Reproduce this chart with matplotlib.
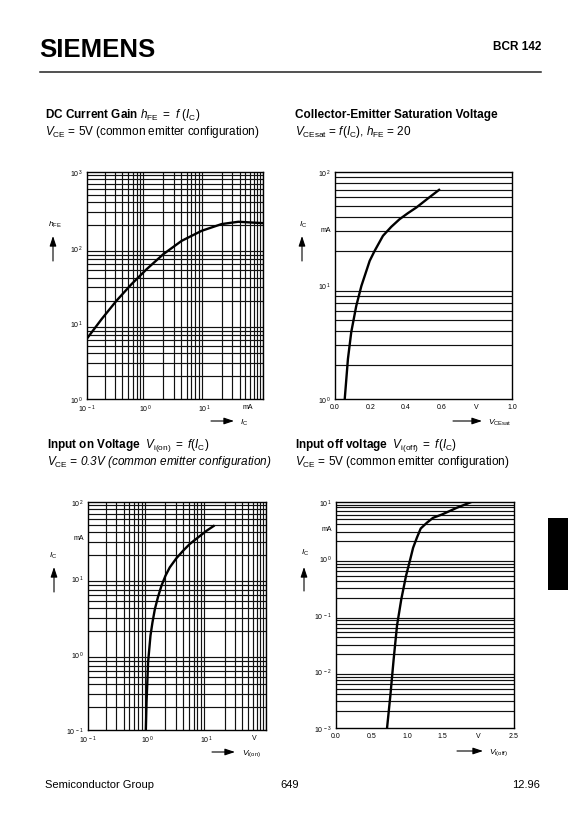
import numpy as np
import matplotlib
matplotlib.use('Agg')
import matplotlib.pyplot as plt
from matplotlib.ticker import LogLocator, FixedLocator, MultipleLocator, FixedFormatter, NullFormatter
from matplotlib.patches import FancyArrowPatch, Rectangle
from matplotlib.lines import Line2D

plt.rcParams['font.family'] = ['Liberation Sans', 'DejaVu Sans']
plt.rcParams['mathtext.fontset'] = 'custom'
plt.rcParams['mathtext.rm'] = 'Liberation Sans'
plt.rcParams['mathtext.it'] = 'Liberation Sans:italic'
plt.rcParams['mathtext.bf'] = 'Liberation Sans:bold'

# ---------------- data ----------------
# DC current gain hFE = f(IC)
gain_ic = [0.1, 0.178, 0.32, 0.575, 1.04, 2.0, 4.1, 9.0, 19.7, 38, 64, 100]
gain_hfe = [6.3, 11.4, 20, 33, 52, 82, 123, 167, 205, 220, 215, 211]
# Collector-emitter saturation voltage
sat_v = [0.055, 0.073, 0.092, 0.12, 0.149, 0.196, 0.224, 0.271, 0.318, 0.365, 0.412, 0.46, 0.525, 0.588]
sat_ic = [1.0, 2.25, 3.9, 6.6, 9.9, 16.5, 20.2, 27.4, 32.9, 38.4, 43.4, 48.7, 58.5, 69.6]
# Input on voltage
on_v = [0.944, 0.97, 1.03, 1.13, 1.22, 1.34, 1.51, 1.73, 2.02, 2.39, 3.09, 4.0, 5.18, 7.1, 9.9, 13.1]
on_ic = [0.1, 0.234, 0.78, 1.75, 2.6, 3.9, 5.6, 7.9, 10.7, 13.8, 18.2, 22.8, 28, 34, 41.7, 48.3]
# Input off voltage
off_v = [0.717, 0.763, 0.81, 0.857, 0.917, 0.983, 1.043, 1.083, 1.137, 1.19, 1.277, 1.363, 1.487, 1.697, 1.884]
off_ic = [0.001, 0.0037, 0.0166, 0.065, 0.19, 0.49, 0.97, 1.55, 2.35, 3.4, 4.3, 5.25, 6.0, 7.9, 9.8]

# tick labels
tl_xticks = [0.1, 1, 10, 55]
tl_xlabels = [r'$\mathregular{10^{\,-1}}$', r'$\mathregular{10^{\,0}}$', r'$\mathregular{10^{\,1}}$', 'mA']
tl_yticks = [1, 10, 100, 1000]
tl_ylabels = [r'$\mathregular{10^{\,0}}$', r'$\mathregular{10^{\,1}}$', r'$\mathregular{10^{\,2}}$', r'$\mathregular{10^{\,3}}$']

tr_xticks = [0.0, 0.2, 0.4, 0.6, 0.8, 1.0]
tr_xlabels = ['0.0', '0.2', '0.4', '0.6', 'V', '1.0']
tr_yticks = [1, 10, 31.6, 100]
tr_ylabels = [r'$\mathregular{10^{\,0}}$', r'$\mathregular{10^{\,1}}$', 'mA', r'$\mathregular{10^{\,2}}$']

bl_xticks = [0.1, 1, 10, 64]
bl_xlabels = [r'$\mathregular{10^{\,-1}}$', r'$\mathregular{10^{\,0}}$', r'$\mathregular{10^{\,1}}$', 'V']
bl_yticks = [0.1, 1, 10, 35, 100]
bl_ylabels = [r'$\mathregular{10^{\,-1}}$', r'$\mathregular{10^{\,0}}$', r'$\mathregular{10^{\,1}}$', 'mA', r'$\mathregular{10^{\,2}}$']

br_xticks = [0.0, 0.5, 1.0, 1.5, 2.0, 2.5]
br_xlabels = ['0.0', '0.5', '1.0', '1.5', 'V', '2.5']
br_yticks = [1e-3, 1e-2, 1e-1, 1, 3.5, 10]
br_ylabels = [r'$\mathregular{10^{\,-3}}$', r'$\mathregular{10^{\,-2}}$', r'$\mathregular{10^{\,-1}}$',
              r'$\mathregular{10^{\,0}}$', 'mA', r'$\mathregular{10^{\,1}}$']

# ---------------- figure ----------------
W, H = 575, 828
fig = plt.figure(figsize=(W / 100, H / 100), dpi=100)
fig.patch.set_facecolor('white')


def fx(x):
    return x / W


def fy(y):
    return 1 - y / H


def make_axes(l, t, r, b):
    return fig.add_axes([l / W, 1 - b / H, (r - l) / W, (b - t) / H])


def style(ax, xlog, ylog, xlim, ylim, xt, xl, yt, yl, xminor=None, yminor=None):
    if xlog:
        ax.set_xscale('log')
    if ylog:
        ax.set_yscale('log')
    ax.set_xlim(*xlim)
    ax.set_ylim(*ylim)
    ax.xaxis.set_major_locator(FixedLocator(xt))
    ax.xaxis.set_major_formatter(FixedFormatter(xl))
    ax.yaxis.set_major_locator(FixedLocator(yt))
    ax.yaxis.set_major_formatter(FixedFormatter(yl))
    if xlog:
        ax.xaxis.set_minor_locator(LogLocator(base=10, subs=np.arange(1, 10), numticks=100))
    else:
        ax.xaxis.set_minor_locator(MultipleLocator(xminor))
    if ylog:
        ax.yaxis.set_minor_locator(LogLocator(base=10, subs=np.arange(1, 10), numticks=100))
    else:
        ax.yaxis.set_minor_locator(MultipleLocator(yminor))
    ax.xaxis.set_minor_formatter(NullFormatter())
    ax.yaxis.set_minor_formatter(NullFormatter())
    ax.grid(False, which='major')
    ax.grid(True, which='minor', color='#111111', lw=0.85)
    ax.tick_params(which='both', length=0, labelsize=5, pad=3)
    for s in ax.spines.values():
        s.set_linewidth(1.0)
        s.set_color('black')
    ax.set_axisbelow(True)


# Top-left: DC current gain
ax1 = make_axes(87, 173, 263, 400)
ax1.plot(gain_ic, gain_hfe, color='black', lw=1.7)
style(ax1, True, True, (0.1, 100), (1, 1000), tl_xticks, tl_xlabels, tl_yticks, tl_ylabels)

# Top-right: saturation voltage
ax2 = make_axes(335, 173, 512, 400)
ax2.plot(sat_v, sat_ic, color='black', lw=1.7)
style(ax2, False, True, (0, 1.0), (1, 100), tr_xticks, tr_xlabels, tr_yticks, tr_ylabels, xminor=0.2)

# Bottom-left: input on voltage
ax3 = make_axes(88, 503, 266, 731)
ax3.plot(on_v, on_ic, color='black', lw=1.7)
style(ax3, True, True, (0.1, 100), (0.1, 100), bl_xticks, bl_xlabels, bl_yticks, bl_ylabels)

# Bottom-right: input off voltage
ax4 = make_axes(336, 503, 514, 729)
ax4.plot(off_v, off_ic, color='black', lw=1.7)
style(ax4, False, True, (0, 2.5), (1e-3, 10), br_xticks, br_xlabels, br_yticks, br_ylabels, xminor=0.5)

# ---------------- titles ----------------
TS = 8.5
fig.text(fx(45), fy(115), r'DC Current Gain $h_{\rm FE}\ =\ f\ (I_{\rm C})$', fontsize=TS,
         fontweight='bold', ha='left', va='center')
fig.text(fx(45), fy(131.5), r'$V_{\rm CE}$ = 5V (common emitter configuration)', fontsize=TS,
         ha='left', va='center')
fig.text(fx(295), fy(115), 'Collector-Emitter Saturation Voltage', fontsize=TS,
         fontweight='bold', ha='left', va='center')
fig.text(fx(295), fy(131.5), r'$V_{\rm CEsat}$ = $f$($I_{\rm C}$), $h_{\rm FE}$ = 20', fontsize=TS,
         ha='left', va='center')
fig.text(fx(47), fy(446), r'Input on Voltage  $V_{\rm i(on)}\ =\ f(I_{\rm C})$', fontsize=TS,
         fontweight='bold', ha='left', va='center')
fig.text(fx(47), fy(462), r'$V_{\rm CE}$ = 0.3V (common emitter configuration)', fontsize=TS,
         fontstyle='italic', ha='left', va='center')
fig.text(fx(295), fy(446), r'Input off voltage  $V_{\rm i(off)}\ =\ f(I_{\rm C})$', fontsize=TS,
         fontweight='bold', ha='left', va='center')
fig.text(fx(295), fy(462), r'$V_{\rm CE}$ = 5V (common emitter configuration)', fontsize=TS,
         ha='left', va='center')

# ---------------- axis labels with arrows ----------------


def arrow(x0, y0, x1, y1):
    fig.add_artist(FancyArrowPatch((fx(x0), fy(y0)), (fx(x1), fy(y1)), transform=fig.transFigure,
                                   arrowstyle='-|>,head_length=0.6,head_width=0.2', mutation_scale=10,
                                   lw=0.8, color='black', shrinkA=0, shrinkB=0))


LS = 6
arrow(53, 262, 53, 237)
fig.text(fx(48), fy(225), r'$h_{\rm FE}$', fontsize=LS, ha='left', va='center')
arrow(302, 262, 302, 237)
fig.text(fx(299), fy(225), r'$I_{\rm C}$', fontsize=LS, ha='left', va='center')
arrow(54, 593, 54, 568)
fig.text(fx(49), fy(556), r'$I_{\rm C}$', fontsize=LS, ha='left', va='center')
arrow(304, 592, 304, 568)
fig.text(fx(301), fy(553), r'$I_{\rm C}$', fontsize=LS, ha='left', va='center')

arrow(211, 422, 234, 422)
fig.text(fx(240), fy(423), r'$I_{\rm C}$', fontsize=LS, ha='left', va='center')
arrow(453, 422, 482, 422)
fig.text(fx(488), fy(423), r'$V_{\rm CEsat}$', fontsize=LS, ha='left', va='center')
arrow(212, 753, 235, 753)
fig.text(fx(242), fy(754), r'$V_{\rm i(on)}$', fontsize=LS, ha='left', va='center')
arrow(457, 752, 483, 752)
fig.text(fx(489), fy(753), r'$V_{\rm i(off)}$', fontsize=LS, ha='left', va='center')

# ---------------- header / footer ----------------
fig.text(fx(39), fy(50), 'SIEMENS', fontsize=18.5, fontweight='bold', ha='left', va='center')
fig.text(fx(541), fy(47), 'BCR 142', fontsize=8.5, fontweight='bold', ha='right', va='center')
fig.add_artist(Line2D([fx(40), fx(541)], [fy(73), fy(73)], transform=fig.transFigure,
                      color='#222222', lw=1.1))
fig.text(fx(45), fy(785), 'Semiconductor Group', fontsize=8, ha='left', va='center')
fig.text(fx(290), fy(785), '649', fontsize=8, ha='center', va='center')
fig.text(fx(540), fy(785), '12.96', fontsize=8, ha='right', va='center')
fig.add_artist(Rectangle((fx(548), fy(591)), fx(20), 72 / H, transform=fig.transFigure,
                         facecolor='black', edgecolor='none'))

fig.savefig('out.png', dpi=100)
